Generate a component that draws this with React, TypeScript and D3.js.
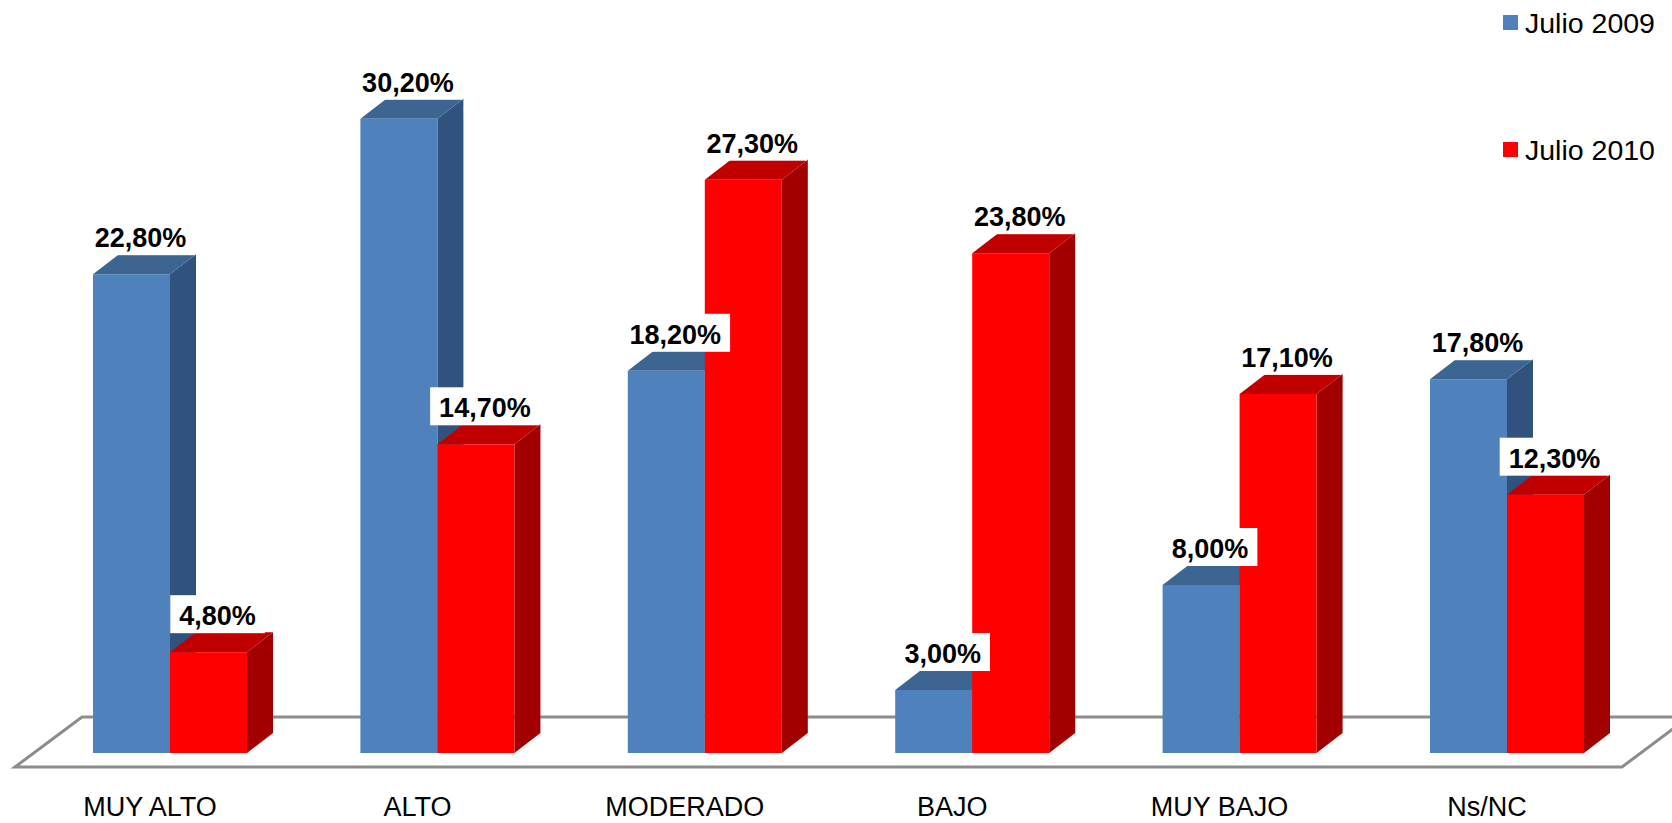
import React from 'react';
import * as d3 from 'd3';

const categories = ['MUY ALTO', 'ALTO', 'MODERADO', 'BAJO', 'MUY BAJO', 'Ns/NC'];
const seriesNames = ['Julio 2009', 'Julio 2010'];
const values2009 = [22.8, 30.2, 18.2, 3.0, 8.0, 17.8];
const values2010 = [4.8, 14.7, 27.3, 23.8, 17.1, 12.3];
const seriesValues = [values2009, values2010];

const palette = [
  { front: '#4F81BD', top: '#3C6592', side: '#31527C' },
  { front: '#FF0000', top: '#C00000', side: '#A20000' },
];

const W = 1672;
const H = 823;
const DX = 26;
const DY = 20;
const FONT = "Arial, 'Liberation Sans', Helvetica, sans-serif";

const fmt = (v: number) => v.toFixed(2).replace('.', ',') + '%';

let ctx: CanvasRenderingContext2D | null = null;
function measure(text: string, font: string): number {
  if (!ctx) ctx = document.createElement('canvas').getContext('2d');
  if (!ctx) return text.length * 14;
  ctx.font = font;
  return ctx.measureText(text).width;
}

export default function App() {
  const x = d3.scaleBand<string>().domain(categories).range([93, 1584]).paddingInner(0.424).paddingOuter(0);
  const xs = d3.scaleBand<string>().domain(seriesNames).range([0, x.bandwidth()]);
  const y = d3.scaleLinear().domain([0, 35]).range([753, 18]);
  const y0 = y(0);

  const floorFrontY = y0 + 14;
  const floorBackY = y0 - 36;
  const floorL = (x.range()[0] as number) - 78;
  const floorR = (x.range()[1] as number) + 38;
  const floorShift = 67;
  const floorPts = [
    [floorL, floorFrontY],
    [floorL + floorShift, floorBackY],
    [floorR + floorShift, floorBackY],
    [floorR, floorFrontY],
  ];

  const bars: React.ReactNode[] = [];
  const labels: React.ReactNode[] = [];
  const labelFont = `bold 27px ${FONT}`;

  categories.forEach((c, ci) => {
    seriesNames.forEach((s, si) => {
      const v = seriesValues[si][ci];
      const bx = (x(c) as number) + (xs(s) as number);
      const bw = xs.bandwidth();
      const by = y(v);
      const col = palette[si];
      bars.push(
        <g key={`${ci}-${si}`}>
          <polygon
            points={`${bx + bw},${by} ${bx + bw + DX},${by - DY} ${bx + bw + DX},${y0 - DY} ${bx + bw},${y0}`}
            fill={col.side}
          />
          <polygon
            points={`${bx},${by} ${bx + DX},${by - DY} ${bx + bw + DX},${by - DY} ${bx + bw},${by}`}
            fill={col.top}
          />
          <rect x={bx} y={by} width={bw} height={y0 - by} fill={col.front} />
        </g>
      );
      const t = fmt(v);
      const tw = measure(t, labelFont);
      const cx = bx + bw / 2 + 9;
      const base = by - DY - 7;
      labels.push(
        <g key={`l${ci}-${si}`}>
          <rect x={cx - tw / 2 - 9} y={base - 30} width={tw + 18} height={38} fill="#ffffff" />
          <text x={cx} y={base} textAnchor="middle" fontFamily={FONT} fontWeight="bold" fontSize={27} fill="#000">
            {t}
          </text>
        </g>
      );
    });
  });

  return (
    <svg
      width={W}
      height={H}
      style={{ position: 'absolute', left: 0, top: 0, background: '#fff', overflow: 'hidden' }}
    >
      <rect x={0} y={0} width={W} height={H} fill="#fff" />
      <polygon
        points={floorPts.map((p) => p.join(',')).join(' ')}
        fill="#fff"
        stroke="#8C8C8C"
        strokeWidth={3}
        strokeLinejoin="miter"
      />
      {bars}
      {labels}
      {categories.map((c) => (
        <text
          key={c}
          x={(x(c) as number) + x.bandwidth() / 2 - 20}
          y={816}
          textAnchor="middle"
          fontFamily={FONT}
          fontSize={27}
          fill="#000"
        >
          {c}
        </text>
      ))}
      {seriesNames.map((s, i) => (
        <g key={s} transform={`translate(1503, ${15 + i * 127})`}>
          <rect x={0} y={0} width={15} height={15} fill={palette[i].front} />
          <text x={22} y={18} fontFamily={FONT} fontSize={28.5} fill="#000">
            {s}
          </text>
        </g>
      ))}
    </svg>
  );
}
